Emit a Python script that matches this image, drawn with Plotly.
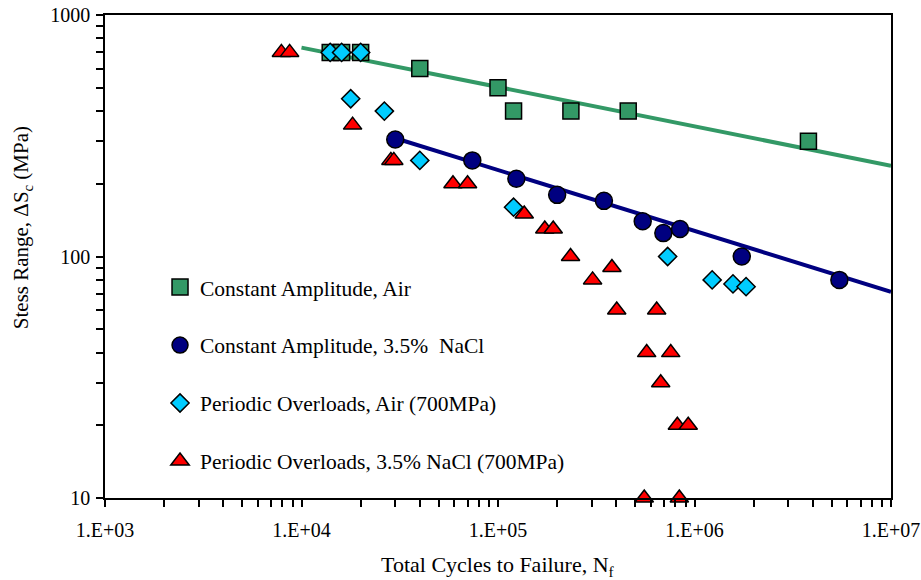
import numpy as np
import plotly.graph_objects as go

# Constant amplitude, air
ca_air_n = [1.4e4, 1.6e4, 2.0e4, 4.0e4, 1.0e5, 1.2e5, 2.35e5, 4.6e5, 3.8e6]
ca_air_s = [700, 700, 700, 600, 500, 400, 400, 400, 300]

# Constant amplitude, 3.5% NaCl
ca_nacl_n = [3.0e4, 7.4e4, 1.24e5, 2.0e5, 3.46e5, 5.45e5, 6.94e5, 8.44e5, 1.74e6, 5.46e6]
ca_nacl_s = [305, 250, 210, 180, 170, 140, 125, 130, 100, 80]

# Periodic overloads, air (700 MPa)
po_air_n = [1.4e4, 1.6e4, 2.0e4, 1.78e4, 2.64e4, 4.0e4, 1.2e5, 7.3e5, 1.23e6, 1.57e6, 1.83e6]
po_air_s = [700, 700, 700, 450, 400, 250, 160, 100, 80, 77, 75]

# Periodic overloads, 3.5% NaCl (700 MPa)
po_nacl_n = [7.9e3, 8.7e3, 1.82e4, 2.85e4, 2.95e4, 5.9e4, 7.0e4, 1.36e5, 1.73e5, 1.91e5,
             2.34e5, 3.03e5, 3.8e5, 4.02e5, 6.42e5, 5.71e5, 7.57e5, 6.73e5, 8.18e5, 9.29e5,
             5.55e5, 8.37e5]
po_nacl_s = [700, 700, 350, 250, 250, 200, 200, 150, 130, 130,
             100, 80, 90, 60, 60, 40, 40, 30, 20, 20,
             10, 10]

# Power-law fits: log10(S) = a + b*log10(N)
air_fit_a, air_fit_b = 3.517, -0.163
air_fit_span = [1e4, 1e7]
nacl_fit_a, nacl_fit_b = 3.618, -0.252
nacl_fit_span = [2.95e4, 1e7]

x_decades = [3, 4, 5, 6, 7]
y_decades = [1, 2, 3]

GREEN = "#339966"
NAVY = "#000080"
CYAN = "#00CCFF"
RED = "#FF0000"
FONT = "Liberation Serif"


def fit_line(a, b, span):
    n = np.logspace(np.log10(span[0]), np.log10(span[1]), 50)
    return n, 10 ** (a + b * np.log10(n))


def minor_vals(decades):
    return [k * 10 ** d for d in decades[:-1] for k in range(2, 10)]


fig = go.Figure()

for a, b, span, color in [(air_fit_a, air_fit_b, air_fit_span, GREEN),
                          (nacl_fit_a, nacl_fit_b, nacl_fit_span, NAVY)]:
    xn, ys = fit_line(a, b, span)
    fig.add_trace(go.Scatter(x=xn, y=ys, mode="lines", showlegend=False,
                             line=dict(color=color, width=4), hoverinfo="skip"))

series = [
    ("Constant Amplitude, Air", ca_air_n, ca_air_s, "square", GREEN, 16),
    ("Constant Amplitude, 3.5%  NaCl", ca_nacl_n, ca_nacl_s, "circle", NAVY, 17),
    ("Periodic Overloads, Air (700MPa)", po_air_n, po_air_s, "diamond", CYAN, 14),
    ("Periodic Overloads, 3.5% NaCl (700MPa)", po_nacl_n, po_nacl_s, "triangle-up", RED, 16),
]
for i, (name, xs, ys, sym, color, size) in enumerate(series):
    fig.add_trace(go.Scatter(
        x=xs, y=ys, mode="markers", name=name, legendgroup=f"g{i}",
        cliponaxis=False,
        marker=dict(symbol=sym, color=color, size=size,
                    line=dict(color="black", width=1.5)),
    ))

axis_common = dict(
    showgrid=False, zeroline=False, showline=True, linecolor="black", linewidth=1.5,
    mirror=True, ticks="outside", ticklen=7, tickwidth=1.5, tickcolor="black",
    automargin=False, tickfont=dict(family=FONT, size=20, color="black"),
)

fig.update_layout(
    width=921, height=580,
    margin=dict(l=105, r=30, t=15, b=82),
    paper_bgcolor="white", plot_bgcolor="white",
    font=dict(family=FONT, size=21, color="black"),
    xaxis=dict(type="log", range=[3, 7], tickmode="array",
               tickvals=[10 ** d for d in x_decades],
               ticktext=[f"1.E+{d:02d}" for d in x_decades],
               minor=dict(tickmode="array", tickvals=minor_vals(x_decades),
                          ticks="outside", ticklen=7, tickwidth=1.5, tickcolor="black",
                          showgrid=False),
               ticklabelstandoff=6, **axis_common),
    yaxis=dict(type="log", range=[1, 3], tickmode="array",
               tickvals=[10 ** d for d in y_decades],
               ticktext=[str(10 ** d) for d in y_decades],
               minor=dict(tickmode="array", tickvals=minor_vals(y_decades),
                          ticks="outside", ticklen=7, tickwidth=1.5, tickcolor="black",
                          showgrid=False),
               ticklabelstandoff=2, **axis_common),
    legend=dict(x=0.07, y=0.479, xanchor="left", yanchor="top",
                bgcolor="rgba(0,0,0,0)", traceorder="grouped", tracegroupgap=27,
                font=dict(family=FONT, size=21.5, color="black")),
    annotations=[
        dict(text="Stess Range, ΔS<sub>c</sub> (MPa)", xref="paper", yref="paper",
             x=-0.106, y=0.56, xanchor="center", yanchor="middle", textangle=-90,
             showarrow=False, font=dict(family=FONT, size=21, color="black")),
        dict(text="Total Cycles to Failure, N<sub>f</sub>", xref="paper", yref="paper",
             x=0.5, y=-0.141, xanchor="center", yanchor="middle",
             showarrow=False, font=dict(family=FONT, size=22, color="black")),
    ],
)

fig.write_html("out.html")
